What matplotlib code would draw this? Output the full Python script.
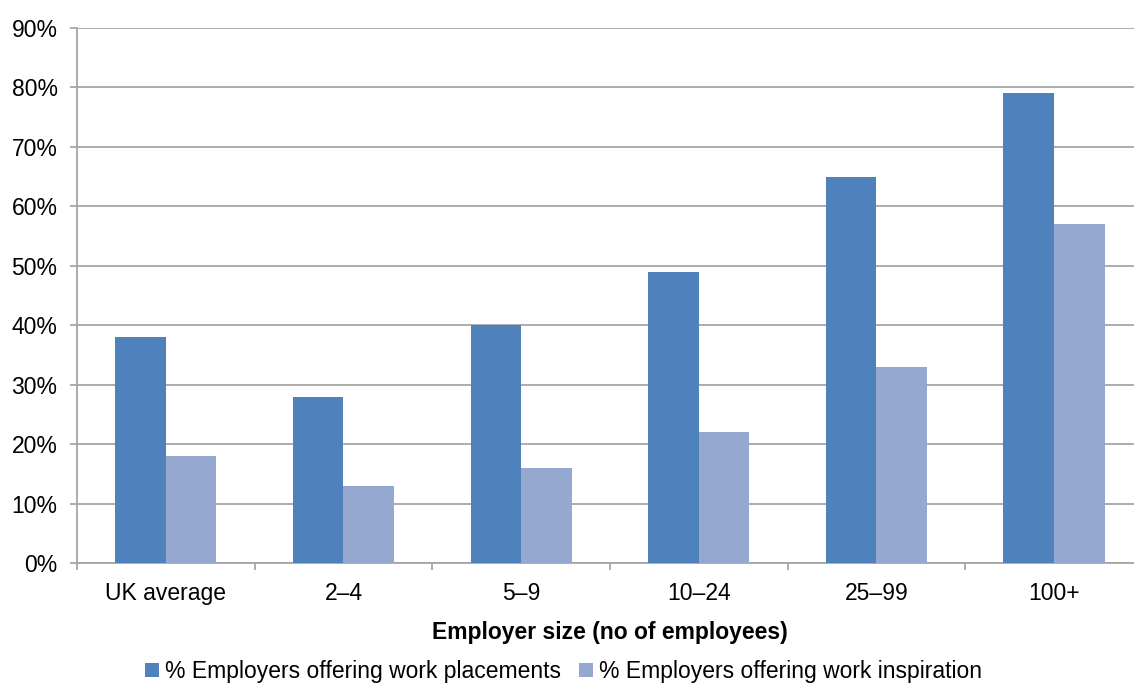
import matplotlib
matplotlib.use("Agg")
import matplotlib.pyplot as plt
import numpy as np

categories = ["UK average", "2–4", "5–9", "10–24", "25–99", "100+"]
placements = [38, 28, 40, 49, 65, 79]
inspiration = [18, 13, 16, 22, 33, 57]
series_labels = ["% Employers offering work placements",
                 "% Employers offering work inspiration"]
y_ticks = list(range(0, 91, 10))

plt.rcParams["font.family"] = ["Liberation Sans", "DejaVu Sans"]

fig = plt.figure(figsize=(11.34, 6.86), dpi=100)
ax = fig.add_axes([0.0679, 0.1793, 0.940, 0.7799])

x = np.arange(len(categories))
w = 0.285
dark = "#4F81BD"
light = "#95A9D0"
b1 = ax.bar(x - w / 2, placements, width=w, color=dark, zorder=3)
b2 = ax.bar(x + w / 2, inspiration, width=w, color=light, zorder=3)

ax.set_xlim(-0.5, len(categories) - 0.5)
ax.set_ylim(0, 90)
ax.set_yticks(y_ticks)
ax.set_yticklabels([f"{v}%" for v in y_ticks])
ax.yaxis.grid(True, color="#A6A6A6", linewidth=1.3, zorder=0)
ax.set_axisbelow(True)

ax.set_xticks(x)
ax.set_xticklabels(categories)
ax.set_xticks(np.arange(-0.5, len(categories) + 0.5, 1), minor=True)
ax.tick_params(axis="x", which="major", length=0, pad=14, labelsize=16.5)
ax.tick_params(axis="x", which="minor", length=5, width=1.3, color="#A6A6A6")
ax.tick_params(axis="y", length=5, width=1.3, color="#A6A6A6", pad=9,
               labelsize=16.5)

for side in ["top", "right"]:
    ax.spines[side].set_visible(False)
for side in ["left", "bottom"]:
    ax.spines[side].set_color("#A6A6A6")
    ax.spines[side].set_linewidth(1.3)

ax.set_xlabel("Employer size (no of employees)", fontsize=16.5,
              fontweight="bold", labelpad=11)

fig.legend([b1, b2], series_labels, loc="center", bbox_to_anchor=(0.497, 0.021),
           ncol=2, frameon=False, fontsize=16.5, handlelength=0.6,
           handleheight=0.6, handletextpad=0.25, columnspacing=0.8)

fig.savefig("out.png", dpi=100)
